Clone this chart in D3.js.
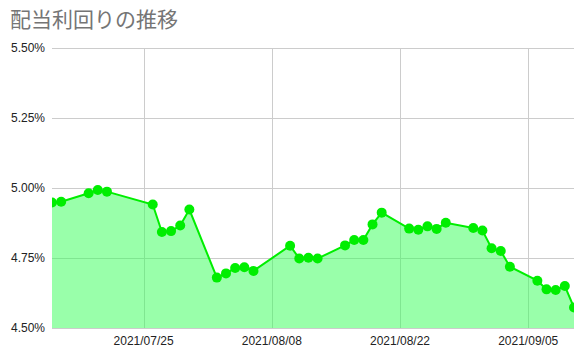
<!DOCTYPE html>
<html>
<head>
<meta charset="utf-8">
<script src="https://cdn.jsdelivr.net/npm/d3@7"></script>
<style>
  body { margin: 0; background: #fff; }
  text { font-family: "Liberation Sans", Arial, sans-serif; }
</style>
</head>
<body>
<script>
// data: date, yield (%)
let dates = ["2021/07/15","2021/07/16","2021/07/19","2021/07/20","2021/07/21",
  "2021/07/26","2021/07/27","2021/07/28","2021/07/29","2021/07/30",
  "2021/08/02","2021/08/03","2021/08/04","2021/08/05","2021/08/06",
  "2021/08/10","2021/08/11","2021/08/12","2021/08/13",
  "2021/08/16","2021/08/17","2021/08/18","2021/08/19","2021/08/20",
  "2021/08/23","2021/08/24","2021/08/25","2021/08/26","2021/08/27",
  "2021/08/30","2021/08/31","2021/09/01","2021/09/02","2021/09/03",
  "2021/09/06","2021/09/07","2021/09/08","2021/09/09","2021/09/10"];
let yields = [4.948,4.951,4.981,4.993,4.987,
  4.941,4.843,4.846,4.866,4.923,
  4.680,4.695,4.714,4.717,4.704,
  4.794,4.748,4.751,4.748,
  4.795,4.814,4.814,4.870,4.912,
  4.855,4.851,4.863,4.854,4.876,
  4.857,4.848,4.785,4.775,4.719,
  4.669,4.638,4.636,4.650,4.573];
let yTicks = [4.50, 4.75, 5.00, 5.25, 5.50];
let xTicks = ["2021/07/25","2021/08/08","2021/08/22","2021/09/05"];

let parse = d3.timeParse("%Y/%m/%d");
let data = dates.map((d, i) => ({date: parse(d), value: yields[i]}));

let width = 587, height = 360;
let margin = {top: 48, right: 13, bottom: 32, left: 52};

let svg = d3.select("body").append("svg")
    .attr("width", width)
    .attr("height", height);

// title
svg.append("text")
    .attr("x", 10)
    .attr("y", 27)
    .style("font-family", "'Noto Sans CJK JP', sans-serif")
    .style("font-size", "21px")
    .style("fill", "#757575")
    .text("配当利回りの推移");

let x = d3.scaleTime()
    .domain([parse("2021/07/15"), parse("2021/09/10")])
    .range([margin.left, width - margin.right]);

let y = d3.scaleLinear()
    .domain([4.5, 5.5])
    .range([height - margin.bottom, margin.top]);

// grid
svg.append("g")
    .selectAll("line.h")
    .data(yTicks)
    .enter().append("line")
    .attr("x1", margin.left).attr("x2", width - margin.right)
    .attr("y1", d => Math.round(y(d)) + 0.5).attr("y2", d => Math.round(y(d)) + 0.5)
    .attr("stroke", "#cccccc");

svg.append("g")
    .selectAll("line.v")
    .data(xTicks)
    .enter().append("line")
    .attr("x1", d => Math.round(x(parse(d))) + 0.5).attr("x2", d => Math.round(x(parse(d))) + 0.5)
    .attr("y1", margin.top).attr("y2", height - margin.bottom)
    .attr("stroke", "#cccccc");

// axis labels
svg.append("g")
    .selectAll("text")
    .data(yTicks)
    .enter().append("text")
    .attr("x", 45)
    .attr("y", d => y(d) + 4)
    .attr("text-anchor", "end")
    .style("font-size", "12px")
    .style("fill", "#222")
    .text(d => d3.format(".2f")(d) + "%");

svg.append("g")
    .selectAll("text")
    .data(xTicks)
    .enter().append("text")
    .attr("x", d => x(parse(d)))
    .attr("y", height - margin.bottom + 17)
    .attr("text-anchor", "middle")
    .style("font-size", "12px")
    .style("fill", "#222")
    .text(d => d);

// clip
svg.append("clipPath").attr("id", "clip")
    .append("rect")
    .attr("x", margin.left).attr("y", margin.top)
    .attr("width", width - margin.left - margin.right)
    .attr("height", height - margin.top - margin.bottom);

let plot = svg.append("g").attr("clip-path", "url(#clip)");

let area = d3.area()
    .x(d => x(d.date))
    .y0(y(4.5))
    .y1(d => y(d.value));

let line = d3.line()
    .x(d => x(d.date))
    .y(d => y(d.value));

plot.append("path")
    .datum(data)
    .attr("d", area)
    .attr("fill", "#33ff55")
    .attr("fill-opacity", 0.5);

plot.append("path")
    .datum(data)
    .attr("d", line)
    .attr("fill", "none")
    .attr("stroke", "#00ee00")
    .attr("stroke-width", 2);

plot.selectAll("circle")
    .data(data)
    .enter().append("circle")
    .attr("cx", d => x(d.date))
    .attr("cy", d => y(d.value))
    .attr("r", 5)
    .attr("fill", "#00ee00");
</script>
</body>
</html>
